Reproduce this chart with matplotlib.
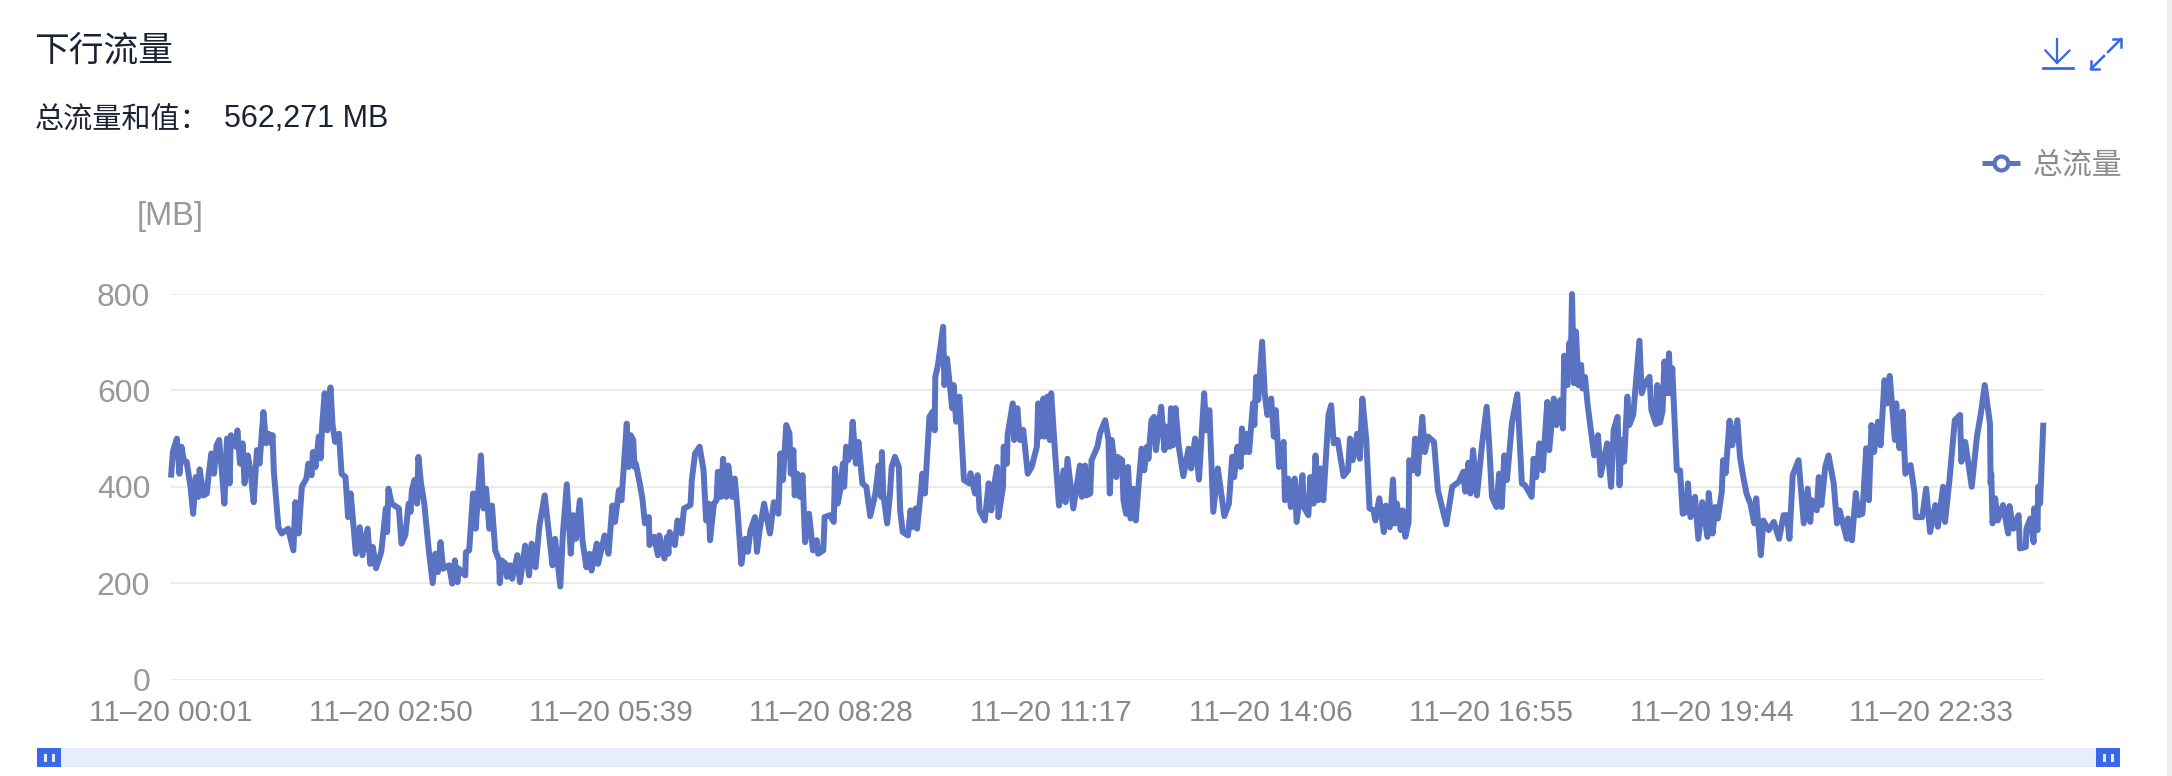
import matplotlib
matplotlib.use('Agg')
import matplotlib.pyplot as plt
from matplotlib.patches import Rectangle

plt.rcParams['font.family'] = ['Liberation Sans', 'Noto Sans CJK SC', 'DejaVu Sans']

# minutes since 00:01
minutes = [
    0, 1.4, 4.5, 6.5, 8, 10, 12, 15, 17, 19, 21, 22, 25, 27.5, 29, 31, 33, 35, 37, 39,
    41, 43, 45, 46, 48, 50, 51, 53, 55, 56.5, 59, 61, 63.5, 66, 68, 71, 73, 75, 77, 78,
    79, 81, 82.5, 85, 90, 94, 95.5, 98, 100.5, 104, 105.5, 108, 109, 111, 113.5, 115, 116, 118, 120, 122.5,
    124, 126, 129, 131, 134, 136, 138, 142, 145, 147, 151, 153, 155, 157.5, 161.5, 165, 166, 167, 169.5, 175,
    177, 180, 182.5, 184, 185, 187, 189, 190, 192, 194.5, 198, 201, 203, 205, 207, 209, 213.5, 216, 218, 220,
    221, 226, 226.5, 229, 232, 234, 238, 240, 242, 244.5, 246.5, 249, 252, 252.5, 254, 257, 258, 260.5, 262, 266,
    268, 272, 275, 277, 280, 283, 287, 289, 293, 295, 299, 301, 304, 307, 309, 311, 314, 316, 319, 321.5,
    323, 327, 328, 333, 336, 339, 341, 344, 346, 350, 351.5, 353, 355, 356, 357, 360,
    362, 364, 367, 367.5, 371, 374, 375, 379, 381, 382, 383, 387, 389, 392, 394, 399, 400, 402.5, 406, 409,
    411, 413, 414, 417, 419, 420, 422.5, 424, 426.5, 428, 431, 433, 435, 438, 441, 443, 445, 448.5, 450, 452,
    455.5, 460, 463, 466.5, 468, 470, 472.5, 475, 476, 478, 479, 481, 483, 485, 487, 490, 493, 496, 497, 501,
    502, 506, 509, 510, 512, 514, 516, 517, 518.5, 520, 522, 523.5, 526, 528, 531, 534, 537, 541, 543.5, 545.5,
    546, 547, 550, 552, 553.5, 556, 559, 560, 562, 566, 568, 569, 572, 573, 576, 577, 579, 582.5, 585, 586.5,
    587, 589, 593, 594, 596, 600, 601, 603, 605.5, 608, 609, 613, 614, 617.5, 619.5, 621, 625, 628, 630, 632,
    634.5, 635.5, 639, 639.5, 642, 642.5, 646.5, 647.5, 650, 652, 654.5, 658, 661, 665, 666, 667.5, 670, 671, 673, 675,
    676, 679, 682, 685.5, 687, 688.5, 693, 698, 699.5, 702, 703, 706, 707, 711.5, 713.5, 717.5, 720, 721, 722.5, 726,
    727, 730.5, 731.5, 733.5, 735, 737, 739, 741, 743, 745.5, 747.5, 749.5, 750.7, 753, 755, 756.5, 758.5, 760.5, 763, 764,
    767, 768, 769.5, 771.5, 774, 777.5, 781.5, 783.5, 786.5, 789.5, 793.5, 795, 797.5, 800.5, 804, 809, 812.5, 815, 816.5, 819,
    821.5, 822.5, 825, 826, 828, 831, 832, 833.5, 835, 838, 840, 842, 845, 847, 848.5, 851, 854.5, 855.5, 858, 860,
    863, 864.5, 869, 870, 873.5, 875, 877.5, 879, 881, 883, 885, 889, 891, 893, 896, 900.5, 904, 905.5, 907.5, 911,
    913, 915, 918, 920.5, 923.5, 925, 928, 931.5, 933, 936, 938.5, 940, 941.5, 944.5, 946, 948, 950.5, 951, 954, 955.5,
    957.5, 961, 963, 965.5, 970, 973, 975.5, 979.5, 984, 989, 992.5, 994, 996.5, 998, 1000, 1003, 1007, 1010.5, 1012.5, 1014.5,
    1018, 1020, 1022, 1024, 1026, 1030, 1034, 1037.5, 1040, 1045, 1046.5, 1048.5, 1051, 1053.5, 1057, 1058.5, 1062, 1064, 1067, 1069,
    1070, 1072.5, 1074, 1075, 1076, 1077.5, 1079, 1081, 1083, 1084, 1086, 1088, 1093, 1096, 1098, 1103, 1106, 1108, 1111, 1112.5,
    1114, 1116, 1118.5, 1120, 1123, 1127.8, 1129.5, 1132, 1135.5, 1137, 1140.5, 1141.5, 1143.5, 1145.5, 1147, 1149, 1150.5, 1151.5, 1153, 1156.5,
    1159, 1161, 1164, 1165, 1167, 1170.5, 1173, 1176, 1180, 1181, 1184, 1186, 1188, 1191, 1192, 1194, 1197, 1199, 1203, 1205,
    1207.5, 1210, 1213, 1216, 1217.5, 1221, 1223, 1227, 1231, 1235, 1238.5, 1241, 1243, 1245.5, 1250, 1254, 1257, 1259, 1260, 1264,
    1265.5, 1267.5, 1270.5, 1273, 1277, 1279.5, 1281.5, 1287, 1288, 1291, 1294, 1296, 1299, 1302, 1304, 1306, 1308, 1311, 1313, 1316,
    1318, 1320, 1324, 1325, 1327.5, 1330, 1332, 1336, 1339, 1340, 1345, 1348, 1351, 1355, 1357, 1361, 1362.5, 1366, 1370, 1374,
    1375, 1378, 1383, 1387, 1390, 1393, 1397, 1397.5, 1398, 1399, 1401, 1403, 1407, 1411, 1412, 1415, 1419, 1420, 1424.5, 1425,
    1428, 1430.5, 1431, 1433.5, 1434, 1435.5, 1438,
]
# downstream traffic in MB, one value for each entry of minutes
traffic_mb = [
    419, 472, 500, 427, 483, 452, 452, 400, 344, 420, 379, 436, 382, 386, 427, 469, 427, 486, 497, 434,
    365, 500, 407, 507, 497, 483, 517, 448, 490, 407, 465, 434, 368, 476, 448, 555, 490, 510, 490, 507,
    431, 365, 316, 303, 313, 268, 368, 303, 400, 417, 448, 424, 472, 441, 504, 459, 524, 594, 517, 606,
    531, 493, 510, 427, 420, 337, 386, 261, 316, 258, 313, 240, 275, 231, 265, 355, 306, 396, 365, 355,
    282, 300, 365, 348, 393, 414, 365, 462, 407, 365, 268, 200, 261, 223, 285, 230, 237, 199, 247, 202,
    230, 216, 264, 268, 386, 313, 465, 355, 396, 313, 361, 268, 247, 200, 247, 240, 213, 237, 209, 258,
    202, 278, 216, 282, 233, 320, 382, 334, 237, 292, 193, 303, 405, 261, 341, 292, 372, 289, 233, 261,
    226, 282, 240, 299, 261, 361, 327, 393, 372, 531, 441, 507, 497, 441, 448, 407,
    376, 324, 337, 279, 296, 258, 299, 251, 296, 261, 306, 279, 330, 303, 355, 362, 414, 469, 483, 434,
    330, 365, 289, 365, 372, 431, 379, 458, 379, 444, 379, 417, 355, 240, 292, 265, 309, 337, 265, 309,
    365, 303, 368, 344, 469, 414, 528, 511, 427, 476, 382, 427, 379, 424, 285, 344, 268, 289, 261, 268,
    337, 341, 327, 438, 365, 393, 448, 400, 483, 455, 465, 535, 448, 493, 407, 400, 339, 386, 444, 379,
    472, 386, 324, 379, 441, 462, 441, 351, 306, 299, 351, 316, 355, 313, 393, 427, 386, 545, 556, 517,
    628, 652, 732, 611, 666, 563, 611, 535, 587, 462, 414, 407, 428, 386, 424, 351, 330, 407, 351, 400,
    441, 337, 400, 483, 448, 507, 573, 497, 563, 497, 518, 427, 441, 483, 573, 504, 583, 504, 587, 497,
    594, 469, 361, 434, 368, 458, 355, 444, 379, 444, 382, 386, 455, 483, 511, 538, 497, 386, 497, 420,
    462, 455, 372, 344, 441, 334, 396, 330, 400, 479, 434, 483, 458, 538, 545, 476, 525, 566, 476, 525,
    483, 563, 486, 563, 483, 422, 479, 438, 500, 415, 594, 517, 559, 348, 438, 339, 365, 462, 420, 483,
    441, 521, 472, 510, 472, 573, 528, 628, 580, 701, 594, 549, 583, 504, 559, 441, 493, 372, 417, 358,
    417, 327, 424, 358, 341, 420, 365, 465, 372, 438, 372, 549, 569, 490, 497, 422, 434, 500, 455, 510,
    458, 583, 497, 355, 351, 330, 376, 306, 361, 316, 415, 324, 365, 310, 351, 296, 327, 455, 434, 500,
    427, 545, 472, 504, 493, 393, 365, 322, 400, 410, 431, 390, 450, 386, 476, 382, 490, 566, 483, 379,
    358, 427, 358, 465, 414, 535, 592, 407, 403, 379, 458, 420, 490, 434, 576, 476, 583, 528, 580, 521,
    672, 611, 699, 646, 800, 615, 722, 611, 653, 604, 628, 570, 465, 507, 424, 490, 400, 518, 545, 403,
    497, 452, 587, 528, 549, 703, 594, 615, 628, 559, 530, 611, 533, 556, 660, 594, 677, 594, 646, 434,
    434, 344, 348, 407, 337, 379, 292, 368, 296, 387, 303, 358, 334, 389, 455, 428, 537, 486, 538, 462,
    421, 386, 365, 324, 376, 258, 330, 310, 327, 292, 341, 341, 292, 424, 455, 324, 396, 327, 372, 351,
    420, 362, 441, 465, 407, 324, 351, 292, 334, 289, 387, 341, 344, 480, 372, 528, 472, 535, 486, 621,
    573, 630, 497, 573, 480, 556, 427, 445, 389, 337, 337, 396, 306, 362, 317, 400, 327, 417, 538, 549,
    452, 493, 400, 504, 552, 611, 531, 407, 427, 324, 376, 330, 362, 303, 360, 313, 341, 272, 275, 313,
    334, 285, 355, 310, 400, 365, 533,
]
y_ticks = [0, 200, 400, 600, 800]
x_tick_minutes = [0, 169, 338, 507, 676, 845, 1014, 1183, 1352]
x_tick_labels = ['11–20 00:01', '11–20 02:50', '11–20 05:39', '11–20 08:28', '11–20 11:17',
                 '11–20 14:06', '11–20 16:55', '11–20 19:44', '11–20 22:33']

W, H = 2172, 776
LINE = '#5972C2'
BLUE = '#3A68E8'

fig = plt.figure(figsize=(W / 100, H / 100), dpi=100)
ax = fig.add_axes([171 / W, 1 - 679.5 / H, 1873 / W, 385.5 / H])
ax.plot(minutes, traffic_mb, color=LINE, lw=4.3, solid_joinstyle='round', solid_capstyle='butt', clip_on=False, zorder=3)
ax.set_xlim(0, 1438.5)
ax.set_ylim(0, 800)
ax.set_yticks(y_ticks)
ax.set_xticks(x_tick_minutes)
ax.set_xticklabels(x_tick_labels)
ax.grid(axis='y', color='#EBEBEB', lw=1.5)
ax.set_axisbelow(True)
for s in ax.spines.values():
    s.set_visible(False)
ax.tick_params(axis='y', length=0, pad=15, labelsize=23, labelcolor='#999999')
ax.tick_params(axis='x', length=0, pad=14, labelsize=21.5, labelcolor='#888888')

# everything outside the plot, placed in picture pixels
ov = fig.add_axes([0, 0, 1, 1], zorder=-1)
ov.set_xlim(0, W)
ov.set_ylim(H, 0)
ov.axis('off')

ov.text(34, 51, '下行流量', fontsize=25, color='#1B2233', va='center', ha='left', fontweight='medium')
ov.text(35, 121, '总流量和值：', fontsize=21, color='#1B2233', va='center', ha='left')
ov.text(224, 119, '562,271 MB', fontsize=22, color='#1B2233', va='center', ha='left')
ov.text(137, 216, '[MB]', fontsize=23.5, color='#999999', va='center', ha='left')
ov.text(2033, 166, '总流量', fontsize=21.5, color='#8C8C8C', va='center', ha='left')

# legend sample
ov.plot([1982, 2020], [163, 163], color=LINE, lw=3.6, solid_capstyle='butt')
ov.plot([2001], [163], 'o', ms=10, mfc='white', mec=LINE, mew=3)

# download icon
ov.plot([2057, 2057], [39, 63], color=BLUE, lw=1.6)
ov.plot([2045.5, 2057, 2069.5], [50.5, 63, 50.5], color=BLUE, lw=1.6)
ov.plot([2043, 2073], [67.5, 67.5], color=BLUE, lw=2)

# expand icon
ov.plot([2091, 2104], [69, 56], color=BLUE, lw=1.8)
ov.plot([2108, 2121], [52, 39], color=BLUE, lw=1.8)
ov.plot([2091, 2091, 2099], [61, 69, 69], color=BLUE, lw=1.8)
ov.plot([2113, 2121, 2121], [39, 39, 47], color=BLUE, lw=1.8)

# zoom slider
ov.add_patch(Rectangle((37, 748), 2082, 19, color='#E6EEFB', lw=0))
for x0 in (37, 2096):
    ov.add_patch(Rectangle((x0, 748), 24, 19, color=BLUE, lw=0))
    ov.add_patch(Rectangle((x0 + 7, 754), 2.5, 8, color='#E6EEFB', lw=0))
    ov.add_patch(Rectangle((x0 + 15, 754), 2.5, 8, color='#E6EEFB', lw=0))

# card border on the right
ov.add_patch(Rectangle((2167, 0), 5, H, color='#EDEDED', lw=0))

fig.savefig('out.png', dpi=100, facecolor='white')
